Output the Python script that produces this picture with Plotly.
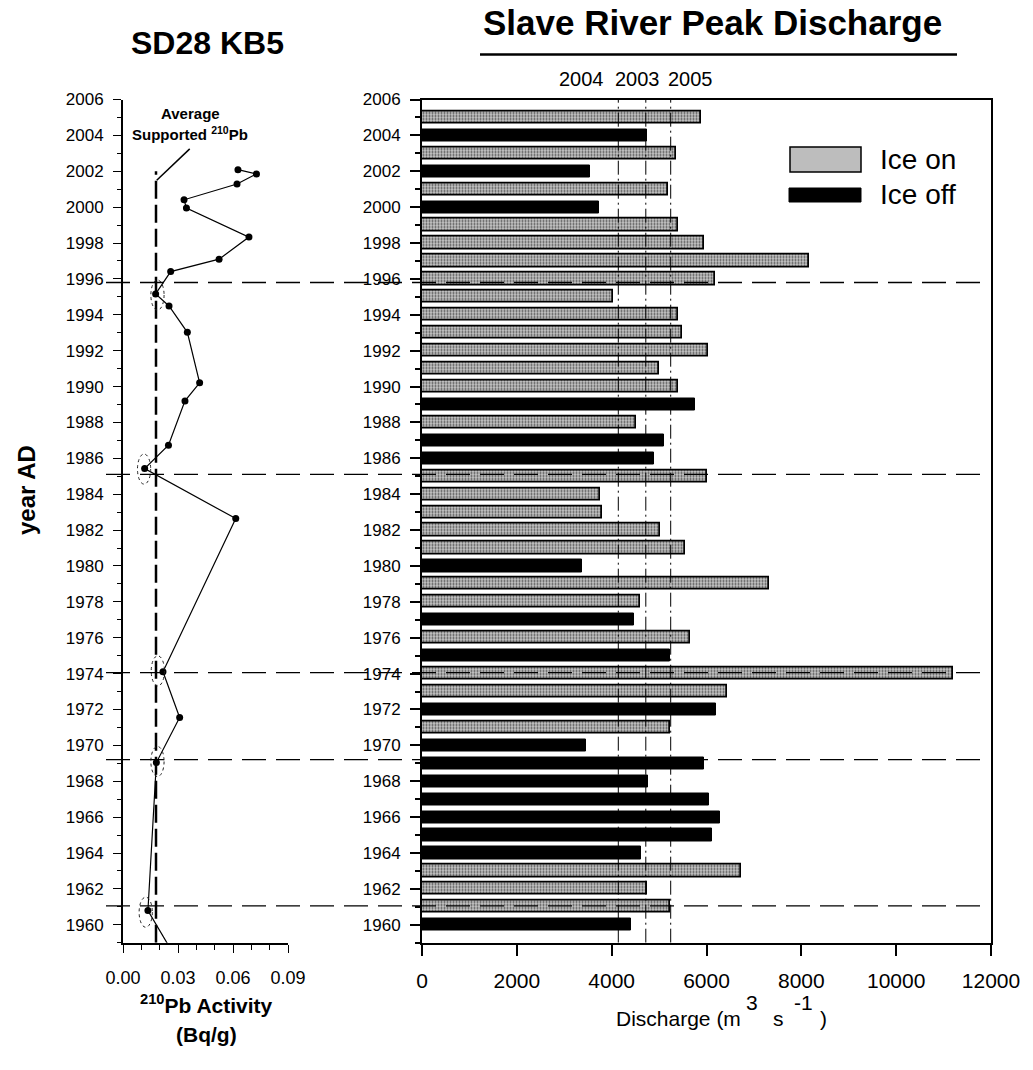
import plotly.graph_objects as go

# ---------------- data ----------------
years = [2005, 2004, 2003, 2002, 2001, 2000, 1999, 1998, 1997, 1996,
         1995, 1994, 1993, 1992, 1991, 1990, 1989, 1988, 1987, 1986,
         1985, 1984, 1983, 1982, 1981, 1980, 1979, 1978, 1977, 1976,
         1975, 1974, 1973, 1972, 1971, 1970, 1969, 1968, 1967, 1966,
         1965, 1964, 1963, 1962, 1961, 1960]
discharge = [5880, 4740, 5360, 3540, 5180, 3730, 5390, 5950, 8160, 6170,
             4020, 5390, 5490, 6040, 5000, 5390, 5750, 4510, 5100, 4900,
             6000, 3760, 3800, 5010, 5540, 3370, 7310, 4590, 4480, 5660,
             5220, 11200, 6430, 6210, 5220, 3450, 5950, 4770, 6060, 6290,
             6120, 4610, 6720, 4740, 5220, 4400]
ice = ["on", "off", "on", "off", "on", "off", "on", "on", "on", "on",
       "on", "on", "on", "on", "on", "on", "off", "on", "off", "off",
       "on", "on", "on", "on", "on", "off", "on", "on", "off", "on",
       "off", "on", "on", "off", "on", "off", "off", "off", "off", "off",
       "off", "off", "on", "on", "on", "off"]

pb_year = [2002.09, 2001.85, 2001.29, 2000.41, 1999.95, 1998.33, 1997.10,
           1996.41, 1995.16, 1994.49, 1993.02, 1990.21, 1989.20, 1986.73,
           1985.43, 1982.64, 1974.10, 1971.55, 1969.04, 1960.79, 1958.00]
pb_activity = [0.0627, 0.0728, 0.0622, 0.0333, 0.0346, 0.0687, 0.0524,
               0.0260, 0.0178, 0.0251, 0.0351, 0.0418, 0.0338, 0.0248,
               0.0118, 0.0615, 0.0218, 0.0309, 0.0182, 0.0136, 0.0297]

supported_pb = 0.018
supported_top = 2002.0

# circled points (activity, year)
circled_x = [0.0188, 0.0115, 0.0190, 0.0188, 0.0124]
circled_y = [1995.1, 1985.4, 1974.15, 1969.1, 1960.7]

# date-horizon lines
horizon_years = [1995.8, 1985.1, 1974.05, 1969.2, 1961.05]

# reference discharge years
ref_labels = ["2004", "2003", "2005"]
ref_discharge = [4140, 4720, 5245]

W, H = 1033, 1070
FONT = "Liberation Sans, Arial, sans-serif"


def px(p):
    return p / W


def py(p):
    return 1 - p / H


on_y = [y for y, t in zip(years, ice) if t == "on"]
on_x = [d for d, t in zip(discharge, ice) if t == "on"]
off_y = [y for y, t in zip(years, ice) if t == "off"]
off_x = [d for d, t in zip(discharge, ice) if t == "off"]

fig = go.Figure()

# left panel: 210Pb profile
fig.add_trace(go.Scatter(
    x=pb_activity, y=pb_year, mode="lines+markers",
    line=dict(color="black", width=1.2),
    marker=dict(color="black", size=7),
    xaxis="x", yaxis="y", showlegend=False, cliponaxis=True))

fig.add_trace(go.Scatter(
    x=[supported_pb, supported_pb], y=[1959, supported_top], mode="lines",
    line=dict(color="black", width=2.5, dash="18px,6px"),
    xaxis="x", yaxis="y", showlegend=False))

# right panel: bars
fig.add_trace(go.Bar(
    x=on_x, y=on_y, orientation="h", width=0.68, name="Ice on",
    marker=dict(color="#c0c0c0", line=dict(color="black", width=1.7),
                pattern=dict(shape=".", fgcolor="#505050", bgcolor="#c8c8c8",
                             size=3, solidity=0.4)),
    xaxis="x2", yaxis="y2", showlegend=False))
fig.add_trace(go.Bar(
    x=off_x, y=off_y, orientation="h", width=0.68, name="Ice off",
    marker=dict(color="black", line=dict(color="black", width=1)),
    xaxis="x2", yaxis="y2", showlegend=False))

shapes = []
# reference vertical lines in right panel
for v in ref_discharge:
    shapes.append(dict(type="line", xref="x2", yref="y2", x0=v, x1=v,
                       y0=1959, y1=2006,
                       line=dict(color="black", width=1, dash="14px,4px,2px,4px"),
                       layer="above"))
# horizon lines across both panels
for hy in horizon_years:
    shapes.append(dict(type="line", xref="paper", yref="y", x0=px(106), x1=px(980),
                       y0=hy, y1=hy,
                       line=dict(color="black", width=1.3, dash="24px,10px"),
                       layer="above"))
# ellipses around circled points
for cx, cy in zip(circled_x, circled_y):
    shapes.append(dict(type="circle", xref="x", yref="y",
                       x0=cx - 0.0036, x1=cx + 0.0036, y0=cy - 0.84, y1=cy + 0.84,
                       line=dict(color="#222", width=1, dash="dot")))
# pointer for "Average Supported" label
shapes.append(dict(type="line", xref="x", yref="y", x0=0.0184, y0=2001.5,
                   x1=0.0364, y1=2003.25, line=dict(color="black", width=1.5)))
# title underline
shapes.append(dict(type="line", xref="paper", yref="paper", x0=px(480), x1=px(957),
                   y0=py(54.5), y1=py(54.5), line=dict(color="black", width=2.5)))
# legend swatches
shapes.append(dict(type="rect", xref="paper", yref="paper", x0=px(790), x1=px(861),
                   y0=py(172), y1=py(147), fillcolor="#bdbdbd",
                   line=dict(color="black", width=1.5)))
shapes.append(dict(type="rect", xref="paper", yref="paper", x0=px(789), x1=px(861),
                   y0=py(202), y1=py(188), fillcolor="black",
                   line=dict(color="black", width=1)))

ann = []


def text(x, y, t, size, bold=False, xanchor="center", angle=0):
    ann.append(dict(xref="paper", yref="paper", x=px(x), y=py(y), text=("<b>%s</b>" % t) if bold else t,
                    showarrow=False, xanchor=xanchor, yanchor="middle", textangle=angle,
                    font=dict(family=FONT, size=size, color="black")))


text(207, 43, "SD28 KB5", 32, bold=True)
text(712, 22, "Slave River Peak Discharge", 35, bold=True)
for lab, cx in zip(ref_labels, [581, 637, 690]):
    text(cx, 79, lab, 20)
text(190, 113, "Average", 15, bold=True)
text(190, 133, "Supported <sup>210</sup>Pb", 15, bold=True)
text(878, 159, "Ice on", 28, xanchor="left")
text(878, 195, "Ice off", 28, xanchor="left")
text(27, 490, "year AD", 24, bold=True, angle=-90)
text(206, 1004, "<sup>210</sup>Pb Activity", 21, bold=True)
text(206, 1034, "(Bq/g)", 21, bold=True)
text(743, 1018, "Discharge (m", 21, xanchor="right")
text(752, 1002, "3", 21)
text(778, 1018, "s", 21)
text(803, 1002, "-1", 21)
text(823, 1018, ")", 21)

axis_font = dict(family=FONT, size=17, color="black")
y_top, y_bot = py(99.5), py(942.7)

fig.update_layout(
    template="none",
    width=W, height=H, margin=dict(l=0, r=0, t=0, b=0, pad=0, autoexpand=False),
    paper_bgcolor="white", plot_bgcolor="white",
    bargap=0, barmode="overlay", showlegend=False,
    shapes=shapes, annotations=ann,
    xaxis=dict(domain=[px(123), px(288)], range=[0, 0.09], anchor="y", automargin=False,
               tickvals=[0, 0.03, 0.06, 0.09], ticktext=["0.00", "0.03", "0.06", "0.09"],
               ticks="outside", ticklen=8, tickwidth=1.2, tickcolor="black",
               minor=dict(dtick=0.01, tick0=0, ticks="outside", ticklen=5, tickcolor="black",
                          showgrid=False),
               showline=True, linecolor="black", linewidth=2, showgrid=False, zeroline=False,
               tickfont=dict(family=FONT, size=18, color="black"), ticklabelstandoff=10),
    yaxis=dict(domain=[y_bot, y_top], range=[1959, 2006], anchor="x", automargin=False,
               tick0=1960, dtick=2, ticks="outside", ticklen=8, tickwidth=1.2, tickcolor="black",
               minor=dict(dtick=1, tick0=1959, ticks="outside", ticklen=4, tickcolor="black",
                          showgrid=False),
               showline=True, linecolor="black", linewidth=2, showgrid=False, zeroline=False,
               tickfont=axis_font, ticklabelstandoff=6),
    xaxis2=dict(domain=[px(422), px(991)], range=[0, 12000], anchor="y2", automargin=False,
                tick0=0, dtick=2000, tickformat="d", ticks="outside", ticklen=11, tickwidth=1.5,
                tickcolor="black",
                showline=True, mirror=True, linecolor="black", linewidth=2,
                showgrid=False, zeroline=False,
                tickfont=dict(family=FONT, size=21, color="black"), ticklabelstandoff=7),
    yaxis2=dict(domain=[y_bot, y_top], range=[1959, 2006], anchor="x2", automargin=False,
                tick0=1960, dtick=2, ticks="outside", ticklen=10, tickwidth=1.5, tickcolor="black",
                minor=dict(dtick=1, tick0=1959, ticks="outside", ticklen=5, tickcolor="black",
                           showgrid=False),
                showline=True, mirror=True, linecolor="black", linewidth=2,
                showgrid=False, zeroline=False,
                tickfont=axis_font, ticklabelstandoff=6),
)

fig.write_html("out.html", config={"displayModeBar": False},
               post_script="document.body.style.margin='0px';")
